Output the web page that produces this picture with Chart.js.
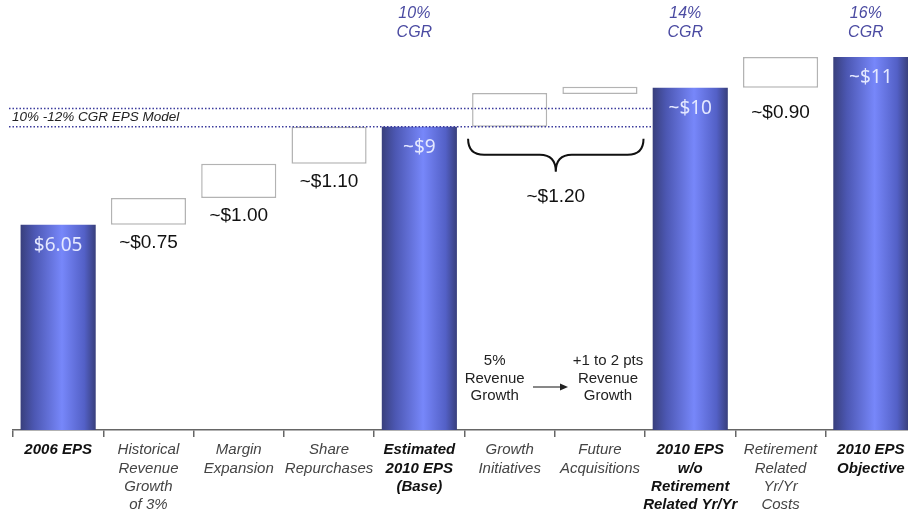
<!DOCTYPE html>
<html>
<head>
<meta charset="utf-8">
<script src="https://cdn.jsdelivr.net/npm/chart.js@4"></script>
<style>
  html, body { margin: 0; padding: 0; background: #fff; overflow: hidden; }
  #wrap { width: 916px; height: 516px; }
</style>
</head>
<body>
<div id="wrap"><canvas id="epsChart"></canvas></div>
<script>
// categories along the x axis
const categories = [
    ['2006 EPS'],
    ['Historical', 'Revenue', 'Growth', 'of 3%'],
    ['Margin', 'Expansion'],
    ['Share', 'Repurchases'],
    ['Estimated', '2010 EPS', '(Base)'],
    ['Growth', 'Initiatives'],
    ['Future', 'Acquisitions'],
    ['2010 EPS', 'w/o', 'Retirement', 'Related Yr/Yr'],
    ['Retirement', 'Related', 'Yr/Yr', 'Costs'],
    ['2010 EPS', 'Objective']
];
const boldCats = [0, 4, 7, 9];

// solid EPS bars
const totals = [6.05, null, null, null, 8.94, null, null, 10.09, null, 11.0];
const totalLabels = ['$6.05', '', '', '', '~$9', '', '', '~$10', '', '~$11'];

// floating step boxes [from, to]
const steps = [null, [6.05, 6.84], [6.84, 7.85], [7.85, 8.94], null, [8.94, 9.94], [9.91, 10.12], null, [10.09, 11.0], null];
const stepLabels = ['', '~$0.75', '~$1.00', '~$1.10', '', '', '', '', '~$0.90', ''];

// CGR call-outs above bars
const cgrLabels = ['', '', '', '', '10%', '', '', '14%', '', '16%'];

// 10% - 12% CGR EPS model band
const modelBand = [8.94, 9.48];
const braceLabel = '~$1.20';

const barPct = 0.832;
const yMax = 12.68;

function barGradient(ctx) {
    const chart = ctx.chart;
    if (!chart.chartArea) return '#5a66d0';
    const xs = chart.scales.x;
    const cx = xs.getPixelForValue(ctx.dataIndex);
    const half = xs.width / categories.length * barPct / 2;
    const g = chart.ctx.createLinearGradient(cx - half, 0, cx + half, 0);
    g.addColorStop(0, '#383f7c');
    g.addColorStop(0.18, '#4c57b2');
    g.addColorStop(0.55, '#7787fa');
    g.addColorStop(0.85, '#5360c6');
    g.addColorStop(1, '#383f7c');
    return g;
}

const extras = {
    id: 'extras',
    afterDatasetsDraw(chart) {
        const ctx = chart.ctx;
        const xs = chart.scales.x;
        const ys = chart.scales.y;
        const totMeta = chart.getDatasetMeta(0);
        const stepMeta = chart.getDatasetMeta(1);
        ctx.save();

        // dotted model lines, up to the 2010 EPS w/o bar
        const stopX = totMeta.data[7].x - totMeta.data[7].width / 2;
        ctx.strokeStyle = '#3b3b9c';
        ctx.lineWidth = 1.5;
        ctx.setLineDash([1.5, 2]);
        modelBand.forEach(v => {
            const y = ys.getPixelForValue(v);
            ctx.beginPath();
            ctx.moveTo(9, y);
            ctx.lineTo(stopX, y);
            ctx.stroke();
        });
        ctx.setLineDash([]);
        ctx.fillStyle = '#222';
        ctx.font = 'italic 13.5px "Liberation Sans", Arial, sans-serif';
        ctx.textAlign = 'left';
        ctx.textBaseline = 'middle';
        ctx.fillText('10% -12% CGR EPS Model', 12, (ys.getPixelForValue(modelBand[0]) + ys.getPixelForValue(modelBand[1])) / 2);

        // labels in the bars
        ctx.textAlign = 'center';
        ctx.fillStyle = '#e4e8ff';
        ctx.font = '19px "Noto Sans", sans-serif';
        totMeta.data.forEach((el, i) => {
            if (!totalLabels[i]) return;
            ctx.fillText(totalLabels[i], el.x, el.y + 21);
        });

        // labels under the step boxes
        ctx.fillStyle = '#111';
        ctx.font = '19px "Liberation Sans", Arial, sans-serif';
        stepMeta.data.forEach((el, i) => {
            if (!stepLabels[i]) return;
            const bottom = Math.max(el.y, el.base);
            ctx.fillText(stepLabels[i], el.x, bottom + (i === 8 ? 25 : 18));
        });

        // CGR call-outs
        ctx.fillStyle = '#4b4ba2';
        ctx.font = 'italic 16px "Liberation Sans", Arial, sans-serif';
        cgrLabels.forEach((t, i) => {
            if (!t) return;
            const x = xs.getPixelForValue(i) - 5;
            ctx.fillText(t, x, 14);
            ctx.fillText('CGR', x, 33);
        });

        // brace under growth initiatives + acquisitions
        const a = stepMeta.data[5], b = stepMeta.data[6];
        const x0 = a.x - a.width / 2 - 4, x1 = b.x + b.width / 2 + 6;
        const top = ys.getPixelForValue(steps[5][0]) + 12;
        const mid = top + 16, bot = top + 33, r = 16;
        const cx = (x0 + x1) / 2;
        ctx.strokeStyle = '#111';
        ctx.lineWidth = 2;
        ctx.beginPath();
        ctx.moveTo(x0, top);
        ctx.quadraticCurveTo(x0, mid, x0 + r, mid);
        ctx.lineTo(cx - r, mid);
        ctx.quadraticCurveTo(cx, mid, cx, bot);
        ctx.quadraticCurveTo(cx, mid, cx + r, mid);
        ctx.lineTo(x1 - r, mid);
        ctx.quadraticCurveTo(x1, mid, x1, top);
        ctx.stroke();
        ctx.fillStyle = '#111';
        ctx.font = '19px "Liberation Sans", Arial, sans-serif';
        ctx.fillText(braceLabel, cx, bot + 25);

        // revenue growth notes
        ctx.font = '15px "Liberation Sans", Arial, sans-serif';
        ctx.fillStyle = '#222';
        const n1 = xs.getPixelForValue(5) - 15, n2 = xs.getPixelForValue(6) + 8;
        ['5%', 'Revenue', 'Growth'].forEach((t, k) => ctx.fillText(t, n1, 361 + k * 17.5));
        ['+1 to 2 pts', 'Revenue', 'Growth'].forEach((t, k) => ctx.fillText(t, n2, 361 + k * 17.5));
        ctx.strokeStyle = '#111';
        ctx.lineWidth = 1;
        ctx.beginPath();
        ctx.moveTo(533, 387);
        ctx.lineTo(562, 387);
        ctx.stroke();
        ctx.beginPath();
        ctx.moveTo(568, 387);
        ctx.lineTo(560, 383.5);
        ctx.lineTo(560, 390.5);
        ctx.closePath();
        ctx.fill();

        ctx.restore();
    }
};

new Chart(document.getElementById('epsChart').getContext('2d'), {
    type: 'bar',
    data: {
        labels: categories,
        datasets: [{
            label: 'EPS',
            data: totals,
            backgroundColor: barGradient,
            borderWidth: 0,
            barPercentage: barPct,
            categoryPercentage: 1
        }, {
            label: 'Drivers',
            data: steps,
            backgroundColor: '#fff',
            borderColor: '#b3b3b3',
            borderWidth: 1.5,
            borderSkipped: false,
            barPercentage: barPct,
            categoryPercentage: 1
        }]
    },
    options: {
        responsive: true,
        maintainAspectRatio: false,
        animation: false,
        layout: { padding: { left: 13, right: 0, top: 0, bottom: 0 } },
        plugins: { legend: { display: false }, tooltip: { enabled: false } },
        scales: {
            x: {
                stacked: true,
                afterFit: s => { s.height = 86; },
                grid: { drawOnChartArea: false, drawTicks: true, tickLength: 7, color: '#666', lineWidth: 1.5 },
                border: { display: true, color: '#666', width: 1.5 },
                ticks: {
                    autoSkip: false,
                    maxRotation: 0,
                    padding: 4,
                    color: c => boldCats.includes(c.index) ? '#111' : '#444',
                    font: c => ({
                        family: '"Liberation Sans", Arial, sans-serif',
                        size: 15,
                        style: 'italic',
                        weight: boldCats.includes(c.index) ? 'bold' : 'normal',
                        lineHeight: 1.22
                    })
                }
            },
            y: { display: false, stacked: false, min: 0, max: yMax }
        }
    },
    plugins: [extras]
});
</script>
</body>
</html>
